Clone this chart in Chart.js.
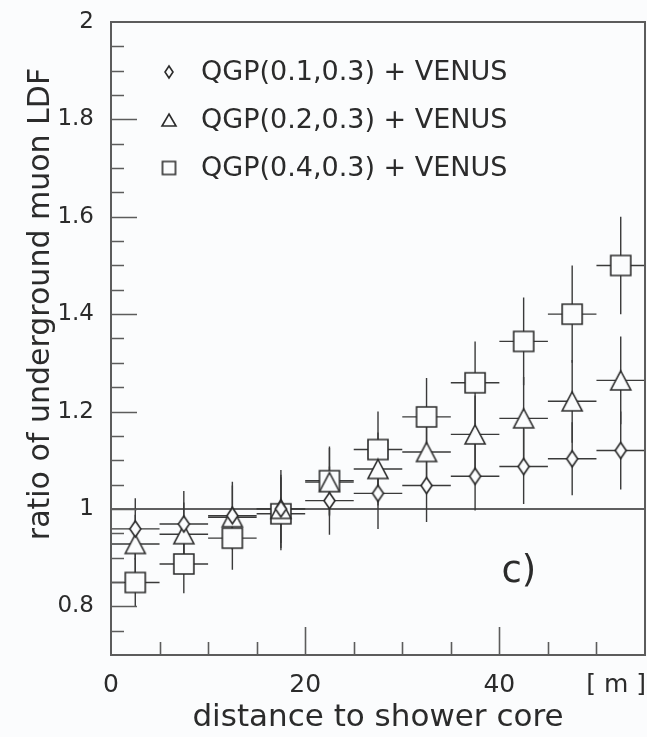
<!DOCTYPE html>
<html>
<head>
<meta charset="utf-8">
<script src="https://cdn.jsdelivr.net/npm/chart.js@4/dist/chart.umd.min.js"></script>
<style>
  html, body { margin: 0; padding: 0; background: #fbfcfd; }
  canvas { display: block; }
</style>
</head>
<body>
<canvas id="ldfRatio" width="647" height="737"></canvas>
<script>
// bin centres [m], each bin is 5 m wide
const distance = [2.5, 7.5, 12.5, 17.5, 22.5, 27.5, 32.5, 37.5, 42.5, 47.5, 52.5];
const binHalfWidth = 2.5;

const seriesNames = ['QGP(0.1,0.3) + VENUS', 'QGP(0.2,0.3) + VENUS', 'QGP(0.4,0.3) + VENUS'];

const qgp01 = [0.959, 0.969, 0.986, 1.000, 1.017, 1.032, 1.048, 1.067, 1.087, 1.103, 1.120];
const qgp01Err = [0.063, 0.068, 0.070, 0.080, 0.070, 0.073, 0.075, 0.070, 0.077, 0.075, 0.080];

const qgp02 = [0.928, 0.948, 0.983, 1.000, 1.055, 1.082, 1.117, 1.153, 1.186, 1.221, 1.264];
const qgp02Err = [0.060, 0.065, 0.065, 0.070, 0.070, 0.075, 0.075, 0.080, 0.085, 0.085, 0.090];

const qgp04 = [0.849, 0.887, 0.940, 0.990, 1.058, 1.122, 1.189, 1.259, 1.344, 1.400, 1.500];
const qgp04Err = [0.050, 0.060, 0.065, 0.075, 0.070, 0.078, 0.080, 0.085, 0.090, 0.100, 0.100];

const xTicks = [0, 20, 40];
const yTicks = [0.8, 1, 1.2, 1.4, 1.6, 1.8, 2];

const ink = '#2b2b2b';
const frameInk = '#5c5c5c';
const paper = '#fbfcfd';
const font = 'DejaVu Sans';

// hollow markers as small canvases so the shapes match the old plot
function marker(shape, w, h) {
  const c = document.createElement('canvas');
  const pad = 2;
  c.width = w + pad * 2;
  c.height = h + pad * 2;
  const ctx = c.getContext('2d');
  ctx.translate(pad, pad);
  ctx.beginPath();
  if (shape === 'diamond') {
    ctx.moveTo(w / 2, 0); ctx.lineTo(w, h / 2); ctx.lineTo(w / 2, h); ctx.lineTo(0, h / 2);
  } else if (shape === 'triangle') {
    ctx.moveTo(w / 2, 0); ctx.lineTo(w, h); ctx.lineTo(0, h);
  } else {
    ctx.rect(0, 0, w, h);
  }
  ctx.closePath();
  ctx.fillStyle = paper;
  ctx.fill();
  ctx.lineWidth = 1.6;
  ctx.strokeStyle = ink;
  ctx.stroke();
  return c;
}

const plotMarkers = [marker('diamond', 11, 16), marker('triangle', 20, 19), marker('square', 20, 20)];
const legendMarkers = [marker('diamond', 8, 12), marker('triangle', 14, 12), marker('square', 13, 13)];

const values = [qgp01, qgp02, qgp04];
const errors = [qgp01Err, qgp02Err, qgp04Err];

const frameAndBars = {
  id: 'frameAndBars',
  beforeDatasetsDraw(chart) {
    const { ctx, chartArea: a, scales: { x, y } } = chart;
    ctx.save();
    ctx.strokeStyle = ink;
    ctx.lineWidth = 1.5;
    // reference line at ratio 1
    ctx.beginPath();
    ctx.moveTo(a.left, y.getPixelForValue(1));
    ctx.lineTo(a.right, y.getPixelForValue(1));
    ctx.stroke();
    // error bars
    ctx.strokeStyle = '#3a3a3a';
    ctx.lineWidth = 1.4;
    values.forEach((vals, s) => {
      vals.forEach((v, i) => {
        const px = x.getPixelForValue(distance[i]);
        const py = y.getPixelForValue(v);
        ctx.beginPath();
        ctx.moveTo(x.getPixelForValue(distance[i] - binHalfWidth), py);
        ctx.lineTo(x.getPixelForValue(distance[i] + binHalfWidth), py);
        ctx.moveTo(px, y.getPixelForValue(v - errors[s][i]));
        ctx.lineTo(px, y.getPixelForValue(v + errors[s][i]));
        ctx.stroke();
      });
    });
    ctx.restore();
  },
  afterDraw(chart) {
    const { ctx, chartArea: a, scales: { x, y } } = chart;
    ctx.save();
    // frame
    ctx.strokeStyle = frameInk;
    ctx.lineWidth = 2;
    ctx.strokeRect(a.left, a.top, a.right - a.left, a.bottom - a.top);
    // inward ticks
    ctx.lineWidth = 1.6;
    ctx.beginPath();
    for (let v = 0.75; v < 2; v += 0.05) {
      const major = yTicks.some(t => Math.abs(t - v) < 1e-6);
      const py = Math.round(y.getPixelForValue(v)) + 0.5;
      ctx.moveTo(a.left, py);
      ctx.lineTo(a.left + (major ? 26 : 13), py);
    }
    for (let v = 5; v < 55; v += 5) {
      const major = xTicks.includes(v);
      const px = Math.round(x.getPixelForValue(v)) + 0.5;
      ctx.moveTo(px, a.bottom);
      ctx.lineTo(px, a.bottom - (major ? 28 : 13));
    }
    ctx.stroke();

    ctx.fillStyle = ink;
    // unit label
    ctx.font = '25px "' + font + '"';
    ctx.textAlign = 'right';
    ctx.textBaseline = 'middle';
    ctx.fillText('[ m ]', a.right + 1, a.bottom + 30);
    // panel tag
    ctx.font = '37px "' + font + '"';
    ctx.textAlign = 'center';
    ctx.fillText('c)', x.getPixelForValue(42), y.getPixelForValue(0.87));
    // y title
    ctx.font = '30px "' + font + '"';
    ctx.save();
    ctx.translate(41, 304);
    ctx.rotate(-Math.PI / 2);
    ctx.fillText('ratio of underground muon LDF', 0, 0);
    ctx.restore();
    // legend
    ctx.font = '27px "' + font + '"';
    ctx.textAlign = 'left';
    seriesNames.forEach((name, i) => {
      const ly = a.top + 50 + i * 48;
      const m = legendMarkers[i];
      ctx.drawImage(m, a.left + 58 - m.width / 2, ly - m.height / 2);
      ctx.fillText(name, a.left + 90, ly + 1);
    });
    ctx.restore();
  }
};

new Chart(document.getElementById('ldfRatio'), {
  type: 'scatter',
  data: {
    datasets: values.map((vals, s) => ({
      label: seriesNames[s],
      data: distance.map((d, i) => ({ x: d, y: vals[i] })),
      pointStyle: plotMarkers[s],
      pointRadius: 10,
      showLine: false
    }))
  },
  options: {
    responsive: false,
    animation: false,
    devicePixelRatio: 1,
    layout: { autoPadding: false, padding: { top: 22, right: 2, left: 0, bottom: 0 } },
    plugins: { legend: { display: false }, tooltip: { enabled: false } },
    scales: {
      x: {
        type: 'linear', min: 0, max: 55,
        afterBuildTicks: s => { s.ticks = xTicks.map(v => ({ value: v })); },
        afterFit: s => { s.height = 82; s.paddingLeft = 0; s.paddingRight = 0; },
        ticks: { font: { family: font, size: 25 }, color: ink, padding: 15, maxRotation: 0 },
        grid: { display: false, drawTicks: false },
        border: { display: false },
        title: { display: true, text: 'distance to shower core', font: { family: font, size: 31 }, color: ink, padding: { top: 0, bottom: 0 } }
      },
      y: {
        type: 'linear', min: 0.7, max: 2,
        afterBuildTicks: s => { s.ticks = yTicks.map(v => ({ value: v })); },
        afterFit: s => { s.width = 111; s.paddingTop = 0; s.paddingBottom = 0; },
        ticks: { font: { family: font, size: 23 }, color: ink, padding: 17, callback: v => String(v) },
        grid: { display: false, drawTicks: false },
        border: { display: false }
      }
    }
  },
  plugins: [frameAndBars]
});
</script>
</body>
</html>
